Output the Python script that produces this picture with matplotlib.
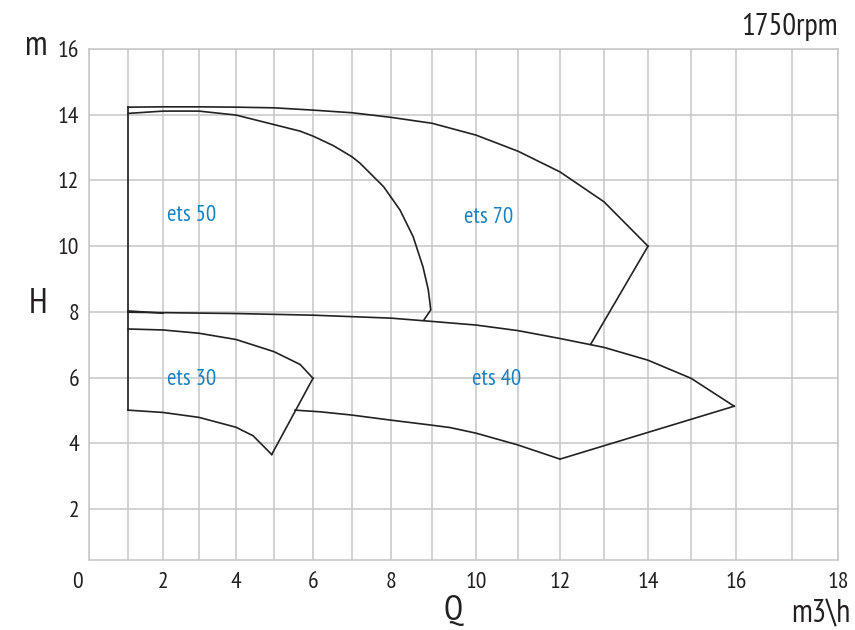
import numpy as np
import matplotlib
matplotlib.use('Agg')
import matplotlib.pyplot as plt
from matplotlib import font_manager

# the original uses a condensed face, take the first one that is installed
installed = set(f.name for f in font_manager.fontManager.ttflist)
for fam in ['PT Sans Narrow', 'Fira Sans Condensed', 'Roboto Condensed', 'Archivo Narrow', 'Asap Condensed']:
    if fam in installed:
        break
else:
    fam = 'DejaVu Sans'
plt.rcParams['font.family'] = [fam, 'DejaVu Sans']

# pump curves: Q (m3/h), H (m)
ets70_top_q = [1, 2, 3, 4, 5, 6, 7, 8, 9, 10, 11, 12, 13, 14]
ets70_top_h = [14.23, 14.24, 14.24, 14.23, 14.21, 14.14, 14.06, 13.92, 13.74, 13.38, 12.89, 12.26, 11.35, 10.0]
ets70_right_q = [14, 12.7]
ets70_right_h = [10.0, 7.02]

ets50_top_q = [1, 2, 3, 4, 5, 5.67, 6, 6.52, 7, 7.21, 7.81, 8.22, 8.54, 8.78, 8.91, 8.97, 8.80]
ets50_top_h = [14.04, 14.11, 14.11, 13.99, 13.70, 13.50, 13.35, 13.06, 12.72, 12.52, 11.81, 11.10, 10.29, 9.37, 8.67, 8.06, 7.75]
ets50_bottom_q = [1, 2]
ets50_bottom_h = [8.03, 7.96]

ets40_top_q = [1, 4, 6, 8, 9, 10, 11, 12, 13, 14, 15, 15.96]
ets40_top_h = [7.99, 7.95, 7.9, 7.81, 7.71, 7.6, 7.43, 7.19, 6.92, 6.53, 5.98, 5.13]
ets40_right_q = [15.96, 12]
ets40_right_h = [5.13, 3.52]
ets40_bottom_q = [5.54, 6.18, 7, 7.97, 8.95, 9.41, 10, 11, 12]
ets40_bottom_h = [5.01, 4.96, 4.86, 4.71, 4.56, 4.48, 4.31, 3.95, 3.52]

ets30_top_q = [1, 2, 3, 4, 5, 5.67, 6]
ets30_top_h = [7.48, 7.45, 7.35, 7.16, 6.79, 6.40, 5.98]
ets30_right_q = [6, 4.94]
ets30_right_h = [5.98, 3.66]
ets30_bottom_q = [1, 2, 3, 4, 4.45, 4.94]
ets30_bottom_h = [5.01, 4.94, 4.79, 4.49, 4.23, 3.66]

left_edge_q = [1, 1]
left_edge_h = [14.23, 5.01]

labels = ['ets 50', 'ets 70', 'ets 30', 'ets 40']
label_q = [2.8, 10.29, 2.8, 10.48]
label_h = [10.92, 10.88, 5.93, 5.93]

# the original grid is not evenly spaced along Q
grid_q = np.arange(0, 19)
grid_px = np.array([89, 128, 163, 199, 236, 274, 313, 352, 391, 432, 476,
                    518, 560, 604, 648, 691, 736, 792, 838], dtype=float)
q_ext = np.concatenate([[-100], grid_q, [118]])
px_ext = np.concatenate([[grid_px[0] - 100 * 41.6], grid_px, [grid_px[-1] + 100 * 41.6]])


def fwd(q):
    return np.interp(q, q_ext, px_ext)


def inv(p):
    return np.interp(p, px_ext, q_ext)


W, H = 855, 630
fig = plt.figure(figsize=(W / 100, H / 100), dpi=100)
ax = fig.add_axes([89 / W, 70 / H, 749 / W, 511 / H])
ax.set_xscale('function', functions=(fwd, inv))
ax.set_xlim(0, 18)
ax.set_ylim(0.45, 16)

grey = '#c6c6c6'
ink = '#231f20'
ax.set_xticks(grid_q)
ax.set_xticklabels(['' if (q % 2 or q == 0) else str(q) for q in grid_q])
ax.set_yticks(range(2, 17, 2))
ax.grid(True, color=grey, lw=1.1)
ax.set_axisbelow(True)
ax.tick_params(length=0, labelsize=17, colors=ink)
ax.tick_params(axis='x', pad=9)
ax.tick_params(axis='y', pad=7)
for s in ax.spines.values():
    s.set_color(grey)
    s.set_linewidth(1.1)

curves = [
    (left_edge_q, left_edge_h),
    (ets70_top_q, ets70_top_h), (ets70_right_q, ets70_right_h),
    (ets50_top_q, ets50_top_h), (ets50_bottom_q, ets50_bottom_h),
    (ets40_top_q, ets40_top_h), (ets40_right_q, ets40_right_h), (ets40_bottom_q, ets40_bottom_h),
    (ets30_top_q, ets30_top_h), (ets30_right_q, ets30_right_h), (ets30_bottom_q, ets30_bottom_h),
]
for q, h in curves:
    ax.plot(q, h, color='#222222', lw=1.2, solid_joinstyle='miter')

for t, q, h in zip(labels, label_q, label_h):
    ax.text(q, h, t, color='#1b82c1', fontsize=16.5, ha='center', va='center')

fig.text(77 / W, 1 - 583 / H, '0', fontsize=17, color=ink, ha='center', va='center')
fig.text(36 / W, 1 - 46 / H, 'm', fontsize=25, color=ink, ha='center', va='center')
fig.text(38 / W, 1 - 304 / H, 'H', fontsize=25, color=ink, ha='center', va='center')
fig.text(453 / W, 1 - 611 / H, 'Q', fontsize=25, color=ink, ha='center', va='center')
fig.text(821 / W, 1 - 614 / H, 'm3\\h', fontsize=23, color=ink, ha='center', va='center')
fig.text(789 / W, 1 - 27 / H, '1750rpm', fontsize=22, color=ink, ha='center', va='center')

fig.savefig('out.png', dpi=100)
